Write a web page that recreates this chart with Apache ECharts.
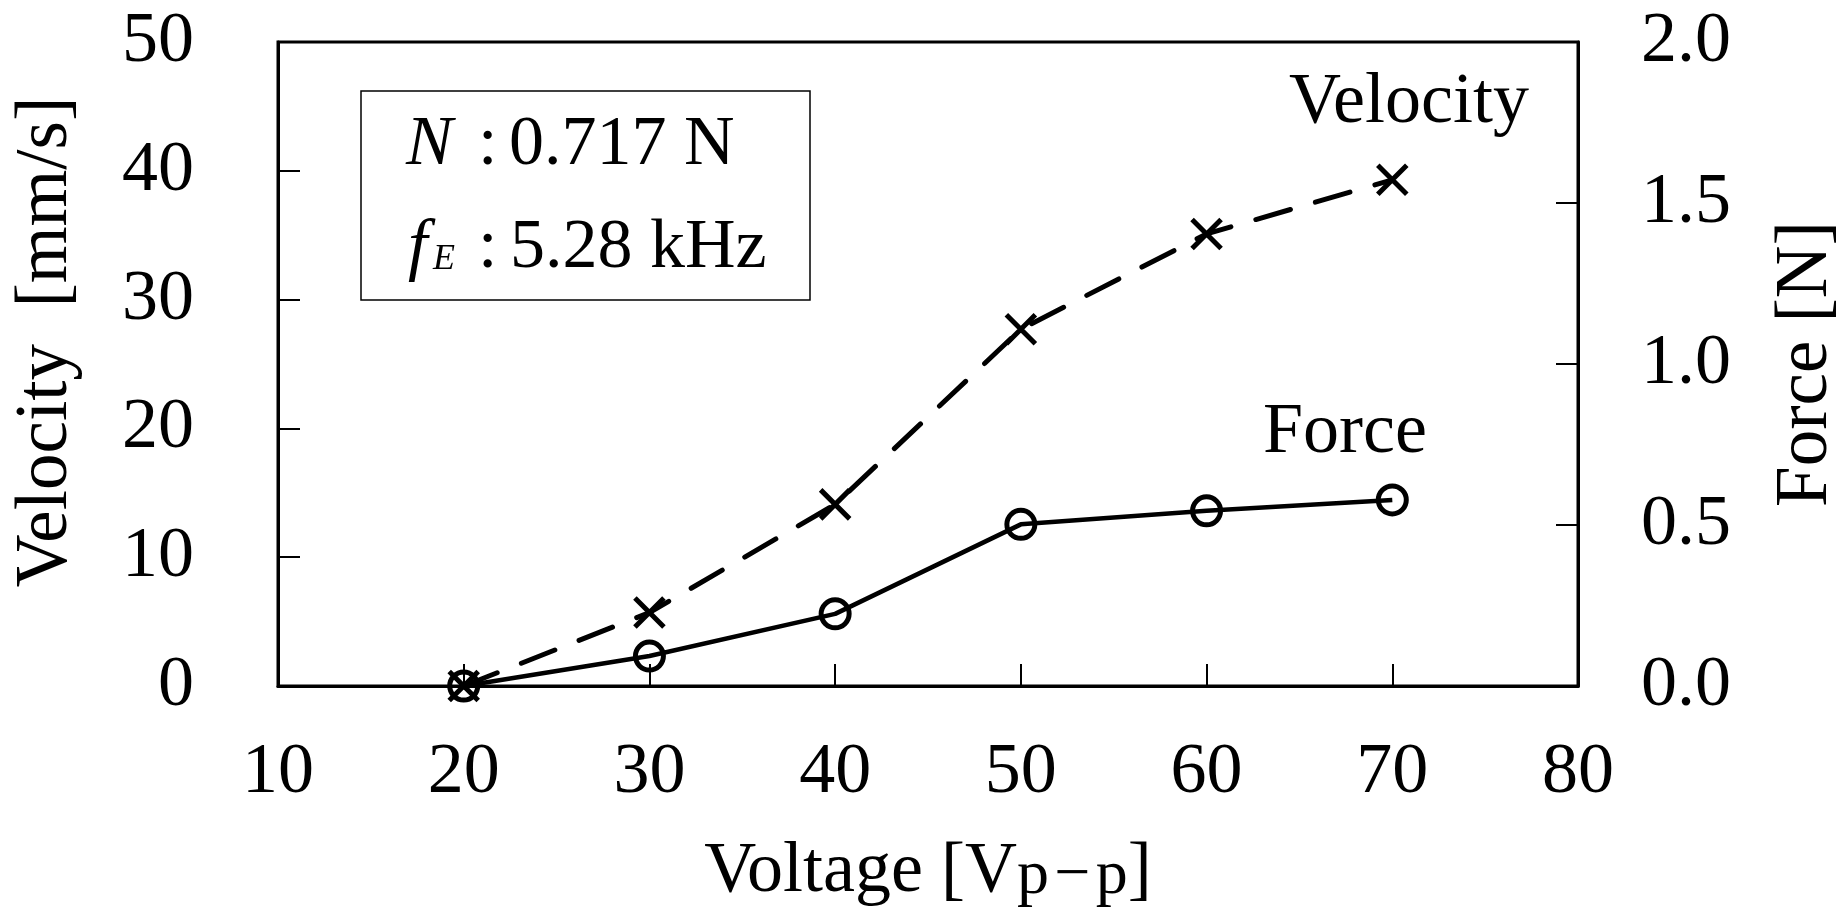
<!DOCTYPE html>
<html><head><meta charset="utf-8">
<script src="https://cdn.jsdelivr.net/npm/echarts@6/dist/echarts.min.js"></script>
<style>html,body{margin:0;padding:0;background:#fff}#c{width:1848px;height:915px}</style>
</head><body><div id="c"></div>
<script>
// ---- data ----
const voltage = [20, 30, 40, 50, 60, 70];           // V p-p
const velocity = [0, 5.7, 14.1, 27.7, 35.1, 39.3];  // mm/s
const force = [0, 0.093, 0.224, 0.502, 0.544, 0.578]; // N
const xRange = [10, 80, 10];
const velRange = [0, 50, 10];
const forceRange = [0, 2.0, 0.5];

const F = '"Liberation Serif", "Times New Roman", serif';
const chart = echarts.init(document.getElementById('c'), null, {renderer: 'canvas'});

const axisCommon = {
  axisLine: {show: true, lineStyle: {color: '#000', width: 3}},
  axisTick: {show: true, inside: true, length: 22, lineStyle: {color: '#000', width: 2}},
  splitLine: {show: false},
  nameMoveOverlap: false
};

function txt(x, y, text, size, italic, align) {
  return {type: 'text', silent: true, style: {
    x: x, y: y, text: text, fontSize: size, fontFamily: F, fontStyle: italic ? 'italic' : 'normal',
    fill: '#000', align: align || 'left', textAlign: align || 'left', verticalAlign: 'middle', textVerticalAlign: 'middle'
  }};
}

const option = {
  animation: false,
  backgroundColor: '#fff',
  grid: {left: 278, right: 270, top: 42, bottom: 229, show: true, borderColor: '#000', borderWidth: 3, outerBoundsMode: 'none', containLabel: false},
  xAxis: Object.assign({}, axisCommon, {
    type: 'value', min: xRange[0], max: xRange[1], interval: xRange[2], position: 'bottom',
    axisLabel: {color: '#000', fontSize: 72, fontFamily: F, margin: 51},
    name: '{a|Voltage [V}{s|p\u200A\u2212\u200Ap}{a|]}',
    nameLocation: 'middle', nameGap: 142,
    nameTextStyle: {rich: {
      a: {fontSize: 72, fontFamily: F, color: '#000', lineHeight: 80, verticalAlign: 'bottom'},
      s: {fontSize: 64, fontFamily: F, color: '#000', lineHeight: 54, verticalAlign: 'bottom'}
    }}
  }),
  yAxis: [
    Object.assign({}, axisCommon, {
      type: 'value', position: 'left', min: velRange[0], max: velRange[1], interval: velRange[2],
      axisLabel: {color: '#000', fontSize: 72, fontFamily: F, margin: 84},
      name: 'Velocity  [mm/s]', nameLocation: 'middle', nameGap: 195, nameRotate: 90,
      nameTextStyle: {color: '#000', fontSize: 73, fontFamily: F, padding: [0, 0, 0, 44]}
    }),
    Object.assign({}, axisCommon, {
      type: 'value', position: 'right', min: forceRange[0], max: forceRange[1], interval: forceRange[2],
      axisLabel: {color: '#000', fontSize: 72, fontFamily: F, margin: 63, formatter: v => v.toFixed(1)},
      name: 'Force [N]', nameLocation: 'middle', nameGap: 192, nameRotate: 90,
      nameTextStyle: {color: '#000', fontSize: 73, fontFamily: F}
    })
  ],
  series: [
    {
      name: 'Velocity', type: 'line', yAxisIndex: 0, z: 3,
      data: voltage.map((v, i) => [v, velocity[i]]),
      symbol: 'path://M0,0L10,10M10,0L0,10', symbolSize: 29,
      itemStyle: {color: 'transparent', borderColor: '#000', borderWidth: 5},
      lineStyle: {color: '#000', width: 5, type: [36, 26], cap: 'round'},
      emphasis: {disabled: true}
    },
    {
      name: 'Force', type: 'line', yAxisIndex: 1, z: 4,
      data: voltage.map((v, i) => [v, force[i]]),
      symbol: 'circle', symbolSize: 28,
      itemStyle: {color: 'transparent', borderColor: '#000', borderWidth: 5},
      lineStyle: {color: '#000', width: 4.5, type: 'solid'},
      emphasis: {disabled: true}
    }
  ],
  graphic: [
    {type: 'rect', silent: true, shape: {x: 361, y: 91, width: 449, height: 209}, style: {fill: 'none', stroke: '#000', lineWidth: 1.5}},
    txt(406, 145.7, 'N', 70, true),
    txt(478, 145.7, ':', 70, false),
    txt(509, 145.7, '0.717 N', 70, false),
    txt(408, 248.4, 'f', 70, true),
    txt(433, 259.8, 'E', 36, true),
    txt(478, 248.4, ':', 70, false),
    txt(510, 248.4, '5.28 kHz', 70, false),
    txt(1409, 103, 'Velocity', 72, false, 'center'),
    txt(1345, 433, 'Force', 72, false, 'center')
  ]
};
chart.setOption(option);
</script></body></html>
